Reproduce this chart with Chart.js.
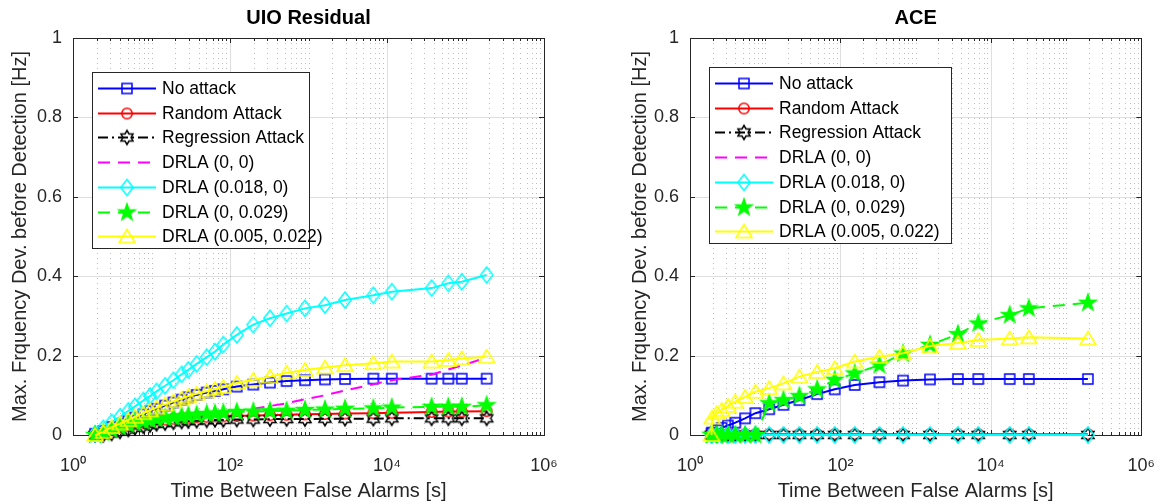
<!DOCTYPE html>
<html>
<head>
<meta charset="utf-8">
<script src="https://cdn.jsdelivr.net/npm/chart.js@4.4.1/dist/chart.umd.min.js"></script>
<style>
  body { margin: 0; background: #fff; width: 1175px; height: 504px; position: relative; overflow: hidden; }
  canvas { position: absolute; top: 0; }
  #uioChart { left: 0; }
  #aceChart { left: 587px; }
</style>
</head>
<body>
<canvas id="uioChart" width="587" height="504"></canvas>
<canvas id="aceChart" width="588" height="504"></canvas>
<script>
// ---- data ----
const seriesNames = ["No attack", "Random Attack", "Regression Attack", "DRLA (0, 0)",
  "DRLA (0.018, 0)", "DRLA (0, 0.029)", "DRLA (0.005, 0.022)"];

const xMajorLabels = { 1: "10\u2070", 100: "10\u00b2", 10000: "10\u2074", 1000000: "10\u2076" };

// UIO residual detector
const uioTime = [1.91, 2.43, 3.11, 3.97, 5.07, 6.16, 7.87, 9.57, 11.6, 14.9, 19.0, 24.2, 29.4, 37.6,
  50.5, 64.4, 82.2, 122, 198, 323, 526, 902, 1620, 2920, 6700, 11500, 37000, 60500, 89600, 186000];
const uioNoAttack = [0.003, 0.010, 0.020, 0.028, 0.036, 0.044, 0.052, 0.060, 0.066, 0.074, 0.082, 0.089, 0.095, 0.101,
  0.107, 0.111, 0.115, 0.122, 0.127, 0.132, 0.136, 0.138, 0.140, 0.141, 0.142, 0.142, 0.142, 0.142, 0.142, 0.142];
const uioRandom = [0, 0.005, 0.012, 0.018, 0.023, 0.027, 0.031, 0.034, 0.037, 0.039, 0.041, 0.043, 0.044, 0.045,
  0.046, 0.047, 0.047, 0.048, 0.049, 0.050, 0.051, 0.052, 0.053, 0.054, 0.055, 0.056, 0.058, 0.059, 0.059, 0.060];
const uioRegression = [0, 0, 0.004, 0.009, 0.014, 0.018, 0.022, 0.025, 0.028, 0.030, 0.032, 0.034, 0.035, 0.036,
  0.037, 0.038, 0.038, 0.039, 0.039, 0.040, 0.040, 0.040, 0.041, 0.041, 0.041, 0.042, 0.042, 0.042, 0.042, 0.042];
const uioDrla00 = [0, 0.005, 0.012, 0.018, 0.023, 0.027, 0.031, 0.034, 0.037, 0.040, 0.042, 0.044, 0.046, 0.048,
  0.050, 0.053, 0.056, 0.060, 0.066, 0.073, 0.080, 0.090, 0.100, 0.112, 0.128, 0.138, 0.152, 0.165, 0.175, 0.195];
const uioDrla018 = [0.003, 0.017, 0.032, 0.046, 0.061, 0.072, 0.087, 0.098, 0.110, 0.124, 0.138, 0.153, 0.164, 0.179,
  0.196, 0.210, 0.228, 0.252, 0.278, 0.294, 0.306, 0.319, 0.327, 0.340, 0.352, 0.361, 0.370, 0.382, 0.386, 0.403];
const uioDrla029 = [0, 0.006, 0.013, 0.020, 0.026, 0.030, 0.034, 0.037, 0.040, 0.043, 0.045, 0.047, 0.049, 0.051,
  0.053, 0.054, 0.056, 0.058, 0.059, 0.060, 0.061, 0.063, 0.064, 0.066, 0.067, 0.069, 0.071, 0.071, 0.071, 0.075];
const uioDrlaMix = [0, 0.008, 0.020, 0.029, 0.038, 0.046, 0.055, 0.062, 0.069, 0.077, 0.085, 0.092, 0.098, 0.104,
  0.110, 0.116, 0.121, 0.131, 0.139, 0.147, 0.157, 0.164, 0.170, 0.176, 0.181, 0.185, 0.185, 0.189, 0.193, 0.197];

// ACE detector
const aceTime = [1.93, 1.97, 2.27, 2.63, 3.19, 4.0, 5.4, 7.4, 11.3, 17.5, 28.5, 49, 84, 155, 330, 680,
  1550, 3650, 6800, 17800, 32000, 195000];
const aceNoAttack = [0.004, 0.006, 0.012, 0.018, 0.024, 0.031, 0.042, 0.055, 0.065, 0.076, 0.088, 0.103, 0.115, 0.126,
  0.133, 0.137, 0.140, 0.141, 0.141, 0.141, 0.141, 0.141];
const aceRandom = [0.002, 0.002, 0.002, 0.002, 0.002, 0.002, 0.002, 0.002, 0.002, 0.002, 0.002, 0.002, 0.002, 0.002,
  0.002, 0.002, 0.002, 0.002, 0.002, 0.002, 0.002, 0.002];
const aceRegression = [0, 0, 0, 0, 0, 0, 0, 0, 0, 0, 0, 0, 0, 0, 0, 0, 0, 0, 0, 0, 0, 0];
const aceDrla00 = [0, 0, 0, 0, 0, 0, 0, 0, 0, 0, 0, 0, 0, 0, 0, 0, 0, 0, 0, 0, 0, 0];
const aceDrla018 = [0, 0, 0, 0, 0, 0, 0, 0, 0, 0, 0, 0, 0, 0, 0, 0, 0, 0, 0, 0, 0, 0];
const aceDrla029 = [0, 0, 0, 0, 0, 0, 0, 0, 0.080, 0.088, 0.098, 0.115, 0.139, 0.155, 0.176, 0.205,
  0.227, 0.254, 0.281, 0.302, 0.319, 0.333];
const aceDrlaMix = [0, 0.044, 0.055, 0.063, 0.073, 0.084, 0.096, 0.109, 0.118, 0.130, 0.147, 0.159, 0.168, 0.185,
  0.197, 0.206, 0.224, 0.232, 0.239, 0.243, 0.246, 0.243];

// ---- styling ----
Chart.defaults.font.family = '"Liberation Sans", Arial, Helvetica, sans-serif';
Chart.defaults.color = "#262626";

const seriesStyle = [
  { color: "#0000ff", dash: [], marker: "square" },
  { color: "#ff0000", dash: [], marker: "circle" },
  { color: "#000000", dash: [10, 4, 2, 4], marker: "hexagram" },
  { color: "#ff00ff", dash: [12, 8], marker: null },
  { color: "#00ffff", dash: [], marker: "diamond" },
  { color: "#00ff00", dash: [12, 8], marker: "pentagram" },
  { color: "#ffff00", dash: [], marker: "triangle" },
];

function makeMarker(kind, color) {
  const c = document.createElement("canvas");
  c.width = 22;
  c.height = 22;
  const g = c.getContext("2d");
  g.translate(11, 11);
  g.strokeStyle = color;
  g.fillStyle = color;
  g.lineWidth = 1.5;
  g.beginPath();
  if (kind === "square") {
    g.rect(-5, -5, 10, 10);
  } else if (kind === "circle") {
    g.arc(0, 0, 5.2, 0, Math.PI * 2);
  } else if (kind === "diamond") {
    g.moveTo(0, -8); g.lineTo(6.2, 0); g.lineTo(0, 8); g.lineTo(-6.2, 0); g.closePath();
  } else if (kind === "triangle") {
    g.moveTo(0, -7); g.lineTo(8, 6); g.lineTo(-8, 6); g.closePath();
  } else {
    const n = kind === "pentagram" ? 5 : 6;
    const R = kind === "pentagram" ? 8.5 : 7;
    const r = kind === "pentagram" ? R * 0.4 : R * 0.58;
    for (let i = 0; i < 2 * n; i++) {
      const a = -Math.PI / 2 + i * Math.PI / n;
      const rr = i % 2 ? r : R;
      if (i) g.lineTo(rr * Math.cos(a), rr * Math.sin(a));
      else g.moveTo(rr * Math.cos(a), rr * Math.sin(a));
    }
    g.closePath();
  }
  if (kind === "pentagram") g.fill();
  g.stroke();
  return c;
}

const markers = seriesStyle.map(s => (s.marker ? makeMarker(s.marker, s.color) : null));

// grid, box, inward ticks and the in-axes legend, drawn the way MATLAB does
const matlabAxes = {
  id: "matlabAxes",
  beforeDatasetsDraw(chart) {
    const { ctx, chartArea: a, scales: { x, y } } = chart;
    ctx.save();
    ctx.lineWidth = 1;
    x.ticks.forEach(t => {
      const px = Math.round(x.getPixelForValue(t.value)) + 0.5;
      const major = t.label !== "";
      ctx.strokeStyle = major ? "rgba(38,38,38,0.15)" : "rgba(38,38,38,0.3)";
      ctx.setLineDash(major ? [] : [1, 4]);
      ctx.beginPath();
      ctx.moveTo(px, a.top);
      ctx.lineTo(px, a.bottom);
      ctx.stroke();
    });
    ctx.setLineDash([]);
    ctx.strokeStyle = "rgba(38,38,38,0.15)";
    y.ticks.forEach(t => {
      const py = Math.round(y.getPixelForValue(t.value)) + 0.5;
      ctx.beginPath();
      ctx.moveTo(a.left, py);
      ctx.lineTo(a.right, py);
      ctx.stroke();
    });

    ctx.strokeStyle = "#262626";
    ctx.strokeRect(Math.round(a.left) + 0.5, Math.round(a.top) + 0.5,
      Math.round(a.right - a.left), Math.round(a.bottom - a.top));
    ctx.beginPath();
    x.ticks.forEach(t => {
      const px = Math.round(x.getPixelForValue(t.value)) + 0.5;
      const len = t.label ? 5 : 3;
      ctx.moveTo(px, a.bottom); ctx.lineTo(px, a.bottom - len);
      ctx.moveTo(px, a.top); ctx.lineTo(px, a.top + len);
    });
    y.ticks.forEach(t => {
      const py = Math.round(y.getPixelForValue(t.value)) + 0.5;
      ctx.moveTo(a.left, py); ctx.lineTo(a.left + 5, py);
      ctx.moveTo(a.right, py); ctx.lineTo(a.right - 5, py);
    });
    ctx.stroke();
    ctx.restore();
  },
  afterDatasetsDraw(chart, args, opts) {
    const box = opts.box;
    if (!box) return;
    const { ctx } = chart;
    ctx.save();
    ctx.fillStyle = "#fff";
    ctx.fillRect(box.left, box.top, box.width, box.height);
    ctx.strokeStyle = "#262626";
    ctx.lineWidth = 1;
    ctx.strokeRect(box.left + 0.5, box.top + 0.5, box.width, box.height);
    ctx.font = '17.5px "Liberation Sans", Arial, Helvetica, sans-serif';
    ctx.textBaseline = "middle";
    chart.data.datasets.forEach((ds, i) => {
      const cy = Math.round(box.top + 16 + i * 24.7) + 0.5;
      ctx.strokeStyle = ds.borderColor;
      ctx.lineWidth = 2;
      ctx.setLineDash(ds.borderDash);
      ctx.beginPath();
      ctx.moveTo(box.left + 6, cy);
      ctx.lineTo(box.left + 64, cy);
      ctx.stroke();
      ctx.setLineDash([]);
      if (markers[i]) ctx.drawImage(markers[i], box.left + 35 - 11, cy - 11);
      ctx.fillStyle = "#000";
      ctx.fillText(ds.label, box.left + 70, cy + 1);
    });
    ctx.restore();
  },
};

function buildChart(canvasId, title, time, values, geo) {
  const datasets = values.map((vals, i) => {
    const s = seriesStyle[i];
    return {
      label: seriesNames[i],
      data: time.map((t, j) => ({ x: t, y: vals[j] })),
      borderColor: s.color,
      backgroundColor: s.color,
      borderWidth: 2,
      borderDash: s.dash,
      pointStyle: markers[i] || false,
      pointRadius: markers[i] ? 5 : 0,
      order: values.length - i,
      clip: false,
      tension: 0,
    };
  });

  return new Chart(document.getElementById(canvasId), {
    type: "line",
    data: { datasets },
    options: {
      responsive: false,
      animation: false,
      events: [],
      layout: { padding: { left: 0, right: geo.padRight, top: 0, bottom: 0 } },
      plugins: {
        legend: { display: false },
        tooltip: { enabled: false },
        title: {
          display: true,
          text: title,
          fullSize: false,
          color: "#000",
          font: { size: 20, weight: "bold" },
          padding: { top: 6, bottom: 8 },
        },
        matlabAxes: { box: geo.legend },
      },
      scales: {
        x: {
          type: "logarithmic",
          min: 1,
          max: 1e6,
          afterBuildTicks(scale) {
            const ticks = [];
            for (let k = 0; k < 6; k++) {
              for (let m = 1; m < 10; m++) ticks.push({ value: m * 10 ** k });
            }
            ticks.push({ value: 1e6 });
            scale.ticks = ticks;
          },
          afterFit(scale) { scale.height = 69; },
          grid: { display: false, drawTicks: false },
          border: { display: false },
          ticks: {
            autoSkip: false,
            maxRotation: 0,
            minRotation: 0,
            padding: 20,
            font: { size: 18 },
            callback: v => xMajorLabels[v] || "",
          },
          title: {
            display: true,
            text: "Time Between False Alarms [s]",
            font: { size: 20 },
            padding: { top: 0, bottom: 1 },
          },
        },
        y: {
          min: 0,
          max: 1,
          afterFit(scale) { scale.width = geo.yWidth; },
          grid: { display: false, drawTicks: false },
          border: { display: false },
          ticks: {
            stepSize: 0.2,
            padding: 11,
            font: { size: 18 },
            callback: v => String(Math.round(v * 10) / 10),
          },
          title: {
            display: true,
            text: "Max. Frquency Dev. before Detection [Hz]",
            font: { size: 20 },
            padding: { top: geo.yTitlePad, bottom: 0 },
          },
        },
      },
    },
    plugins: [matlabAxes],
  });
}

buildChart("uioChart", "UIO Residual", uioTime,
  [uioNoAttack, uioRandom, uioRegression, uioDrla00, uioDrla018, uioDrla029, uioDrlaMix],
  { yWidth: 73, padRight: 43, yTitlePad: 8, legend: { left: 92, top: 72, width: 217, height: 176 } });

buildChart("aceChart", "ACE", aceTime,
  [aceNoAttack, aceRandom, aceRegression, aceDrla00, aceDrla018, aceDrla029, aceDrlaMix],
  { yWidth: 103, padRight: 17, yTitlePad: 41, legend: { left: 122, top: 67, width: 242, height: 176 } });
</script>
</body>
</html>
